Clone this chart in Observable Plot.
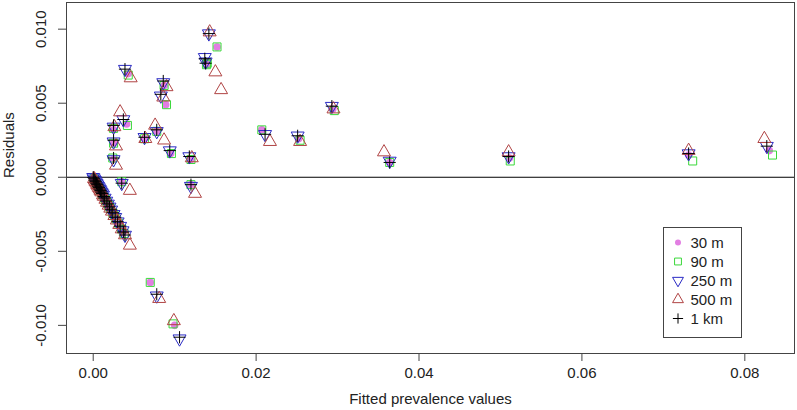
<!DOCTYPE html>
<html>
<head>
<meta charset="utf-8">
<script src="https://cdn.jsdelivr.net/npm/d3@7"></script>
<script src="https://cdn.jsdelivr.net/npm/@observablehq/plot@0.6"></script>
<style>
  html, body { margin: 0; padding: 0; background: #fff; }
  #chart { width: 797px; height: 410px; }
  svg { display: block; }
</style>
</head>
<body>
<div id="chart"></div>
<script>
// ---- Data ----
const seriesNames = ["30 m", "90 m", "250 m", "500 m", "1 km"];
const xTicks = [0, 0.02, 0.04, 0.06, 0.08];
const xTickLabels = ["0.00", "0.02", "0.04", "0.06", "0.08"];
const yTicks = [-0.010, -0.005, 0, 0.005, 0.010];
const yTickLabels = ["-0.010", "-0.005", "0.000", "0.005", "0.010"];

// 30 m
const fit30 = [0.0152,0.0139,0.0138,0.0043,0.0087,0.0089,0.0041,0.0025,0.0025,0.0025,0.0063,0.0078,0.0095,0.0120,0.0207,0.0252,0.0294,0.0364,0.0511,0.0731,0.0830,0.0035,0.0120,0.0070,0.0100,
  0.0001,0.0002,0.0003,0.0004,0.0005,0.0006,0.0007,0.0008,0.0009,0.0010,0.0011,0.0012,0.0013,0.0015,0.0017,0.0019,0.0021,0.0023,0.0025,0.0028,0.0031,0.0034,0.0037];
const res30 = [0.0088,0.0076,0.0078,0.0070,0.0062,0.0049,0.0036,0.0032,0.0023,0.0012,0.0026,0.0031,0.0016,0.0012,0.0032,0.0026,0.0046,0.0010,0.0013,0.0015,0.0018,-0.0003,-0.0005,-0.0071,-0.0100,
  -0.0001,-0.0002,-0.0003,-0.0004,-0.0005,-0.0006,-0.0007,-0.0008,-0.0009,-0.0010,-0.0011,-0.0012,-0.0013,-0.0015,-0.0017,-0.0019,-0.0021,-0.0023,-0.0025,-0.0028,-0.0031,-0.0034,-0.0037];

// 90 m
const fit90 = [0.0152,0.0139,0.0140,0.0043,0.0087,0.0090,0.0042,0.0025,0.0025,0.0024,0.0063,0.0078,0.0096,0.0120,0.0207,0.0254,0.0296,0.0364,0.0512,0.0736,0.0834,0.0035,0.0120,0.0070,0.0098,
  0.0001,0.0002,0.0003,0.0004,0.0005,0.0006,0.0007,0.0008,0.0009,0.0010,0.0011,0.0012,0.0014,0.0015,0.0017,0.0019,0.0021,0.0024,0.0026,0.0028,0.0031,0.0035,0.0038];
const res90 = [0.0088,0.0076,0.0077,0.0069,0.0062,0.0049,0.0035,0.0033,0.0023,0.0013,0.0026,0.0031,0.0016,0.0012,0.0032,0.0025,0.0045,0.0010,0.0011,0.0011,0.0015,-0.0003,-0.0005,-0.0071,-0.0099,
  -0.0001,-0.0002,-0.0003,-0.0004,-0.0005,-0.0006,-0.0007,-0.0008,-0.0009,-0.0010,-0.0011,-0.0012,-0.0014,-0.0015,-0.0017,-0.0019,-0.0021,-0.0024,-0.0026,-0.0028,-0.0031,-0.0035,-0.0038];

// 250 m
const fit250 = [0.0142,0.0137,0.0138,0.0039,0.0086,0.0083,0.0037,0.0025,0.0025,0.0025,0.0063,0.0078,0.0094,0.0118,0.0211,0.0251,0.0293,0.0364,0.0510,0.0731,0.0827,0.0035,0.0120,0.0078,0.0106,
  0.0000,0.0001,0.0002,0.0003,0.0004,0.0005,0.0006,0.0007,0.0008,0.0009,0.0010,0.0011,0.0012,0.0014,0.0016,0.0018,0.0020,0.0022,0.0025,0.0027,0.0030,0.0033,0.0036,0.0039];
const res250 = [0.0097,0.0081,0.0078,0.0073,0.0064,0.0055,0.0039,0.0034,0.0024,0.0012,0.0027,0.0031,0.0018,0.0014,0.0029,0.0028,0.0048,0.0011,0.0014,0.0016,0.0021,-0.0004,-0.0006,-0.0080,-0.0109,
  0.0000,-0.0001,-0.0002,-0.0003,-0.0004,-0.0005,-0.0006,-0.0007,-0.0008,-0.0009,-0.0010,-0.0011,-0.0012,-0.0014,-0.0016,-0.0018,-0.0020,-0.0022,-0.0025,-0.0027,-0.0030,-0.0033,-0.0036,-0.0039];

// 500 m
const fit500 = [0.0143,0.0150,0.0157,0.0046,0.0090,0.0086,0.0033,0.0026,0.0028,0.0028,0.0064,0.0076,0.0087,0.0121,0.0217,0.0254,0.0295,0.0357,0.0510,0.0731,0.0824,0.0045,0.0125,0.0081,0.0099,
  0.0001,0.0002,0.0003,0.0004,0.0005,0.0006,0.0007,0.0008,0.0009,0.0010,0.0012,0.0013,0.0015,0.0017,0.0019,0.0021,0.0023,0.0026,0.0029,0.0032,0.0035,0.0039,0.0045];
const res500 = [0.0098,0.0071,0.0059,0.0067,0.0061,0.0054,0.0044,0.0034,0.0021,0.0008,0.0026,0.0035,0.0025,0.0013,0.0024,0.0024,0.0046,0.0017,0.0017,0.0018,0.0026,-0.0009,-0.0011,-0.0082,-0.0097,
  -0.0001,-0.0002,-0.0003,-0.0004,-0.0005,-0.0006,-0.0007,-0.0008,-0.0009,-0.0010,-0.0012,-0.0013,-0.0015,-0.0017,-0.0019,-0.0021,-0.0023,-0.0026,-0.0029,-0.0032,-0.0035,-0.0039,-0.0046];

// 1 km
const fit1k = [0.0142,0.0137,0.0138,0.0039,0.0086,0.0083,0.0037,0.0025,0.0025,0.0025,0.0063,0.0078,0.0094,0.0118,0.0211,0.0251,0.0293,0.0364,0.0510,0.0731,0.0827,0.0035,0.0120,0.0078,0.0106,
  0.0000,0.0001,0.0002,0.0003,0.0004,0.0005,0.0006,0.0007,0.0008,0.0009,0.0010,0.0011,0.0013,0.0014,0.0016,0.0018,0.0020,0.0022,0.0024,0.0027,0.0030,0.0033,0.0037,0.0039];
const res1k = [0.0097,0.0080,0.0077,0.0073,0.0065,0.0056,0.0039,0.0035,0.0025,0.0013,0.0027,0.0032,0.0018,0.0014,0.0029,0.0028,0.0048,0.0010,0.0014,0.0016,0.0021,-0.0004,-0.0005,-0.0079,-0.0108,
  0.0000,-0.0001,-0.0002,-0.0003,-0.0004,-0.0005,-0.0006,-0.0007,-0.0008,-0.0009,-0.0010,-0.0011,-0.0013,-0.0014,-0.0016,-0.0018,-0.0020,-0.0022,-0.0024,-0.0027,-0.0030,-0.0033,-0.0037,-0.0039];

const colors = ["#e27ee2", "#3ad83a", "#2a2ac4", "#b04444", "#000000"];

// ---- Build tables ----
const toRows = (fx, ry) => fx.map((f, i) => ({fitted: f, residual: ry[i]}));
const d30 = toRows(fit30, res30);
const d90 = toRows(fit90, res90);
const d250 = toRows(fit250, res250);
const d500 = toRows(fit500, res500);
const d1k = toRows(fit1k, res1k);

const FONT = "'Liberation Sans', Arial, sans-serif";

const svg = Plot.plot({
  width: 797,
  height: 410,
  marginLeft: 66,
  marginRight: 3,
  marginTop: 2,
  marginBottom: 57,
  style: {fontFamily: FONT, fontSize: "15px", background: "#fff", color: "#222", overflow: "visible"},
  x: {domain: [-0.00328, 0.0861]},
  y: {domain: [-0.0119, 0.0118]},
  marks: [
    Plot.ruleY([0], {stroke: "#000", strokeWidth: 1}),
    Plot.dot(d30, {x: "fitted", y: "residual", symbol: "circle", r: 3.8, fill: colors[0], stroke: "none"}),
    Plot.dot(d90, {x: "fitted", y: "residual", symbol: "square2", r: 5.1, fill: "none", stroke: colors[1], strokeWidth: 1}),
    Plot.dot(d250, {x: "fitted", y: "residual", symbol: "triangle2", rotate: 180, r: 6.2, fill: "none", stroke: colors[2], strokeWidth: 1}),
    Plot.dot(d500, {x: "fitted", y: "residual", symbol: "triangle2", r: 6.2, fill: "none", stroke: colors[3], strokeWidth: 1}),
    Plot.dot(d1k, {x: "fitted", y: "residual", symbol: "plus", r: 4, fill: "none", stroke: colors[4], strokeWidth: 1}),
    Plot.frame({stroke: "#444", strokeWidth: 1}),
    Plot.axisX({ticks: xTicks, tickFormat: (d, i) => xTickLabels[i], tickSize: 8, tickPadding: 6, label: null, stroke: "#444"}),
    Plot.axisY({ticks: yTicks, tickFormat: (d, i) => yTickLabels[i], tickSize: 8, tickRotate: -90, tickPadding: 13, label: null, stroke: "#444"}),
    Plot.text(["Fitted prevalence values"], {frameAnchor: "bottom", dy: 50, text: d => d, fontSize: 15, fill: "#222"}),
    Plot.text(["Residuals"], {frameAnchor: "left", dx: -57, rotate: -90, text: d => d, fontSize: 15, fill: "#222"})
  ]
});

document.getElementById("chart").appendChild(svg);

// ---- Legend (inside the plot, bottom right) ----
const lg = d3.select(svg).append("g").attr("font-family", FONT).attr("font-size", 15).attr("text-anchor", "start");
lg.append("rect").attr("x", 663.5).attr("y", 227.5).attr("width", 78).attr("height", 110)
  .attr("fill", "#fff").attr("stroke", "#444").attr("stroke-width", 1);
const legSym = [
  {type: d3.symbolCircle, size: 28, fill: colors[0], stroke: "none", rot: 0},
  {type: d3.symbolSquare2, size: 60, fill: "none", stroke: colors[1], rot: 0},
  {type: d3.symbolTriangle2, size: 85, fill: "none", stroke: colors[2], rot: 180},
  {type: d3.symbolTriangle2, size: 85, fill: "none", stroke: colors[3], rot: 0},
  {type: d3.symbolPlus, size: 36, fill: "none", stroke: colors[4], rot: 0}
];
seriesNames.forEach((name, i) => {
  const cy = 242.5 + i * 19;
  const s = legSym[i];
  lg.append("path").attr("d", d3.symbol(s.type, s.size)())
    .attr("transform", `translate(678,${cy}) rotate(${s.rot})`)
    .attr("fill", s.fill).attr("stroke", s.stroke).attr("stroke-width", 1);
  lg.append("text").attr("x", 690.5).attr("y", cy).attr("dy", "0.36em")
    .attr("text-anchor", "start").attr("fill", "#222").text(name);
});
</script>
</body>
</html>
